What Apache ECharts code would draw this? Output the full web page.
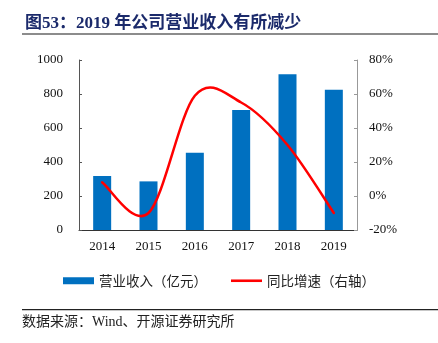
<!DOCTYPE html>
<html>
<head>
<meta charset="utf-8">
<script src="https://cdn.jsdelivr.net/npm/echarts@6/dist/echarts.min.js"></script>
<style>
  html, body { margin: 0; padding: 0; background: #fff; }
  #chart { width: 438px; height: 343px; }
</style>
</head>
<body>
<div id="chart"></div>
<script>
// Annual revenue (100M CNY) and its year-on-year growth (%)
const years = ['2014', '2015', '2016', '2017', '2018', '2019'];
const revenue = [318, 286, 455, 706, 916, 825];
const growth = [8, -10, 59, 55, 30, -10];
const leftTicks = [0, 200, 400, 600, 800, 1000];
const rightTicks = [-20, 0, 20, 40, 60, 80];

const serif = '"Liberation Serif", "Times New Roman", serif';
const cjk = '"Noto Sans CJK SC", sans-serif';

// Smooth growth curve: a cubic Bezier through every point, tangents
// taken from the neighbouring points (Catmull-Rom style).
function renderGrowthCurve(params, api) {
  if (params.dataIndex !== 0) return null;
  const pts = growth.map((v, i) => api.coord([i, v]));
  const n = pts.length;
  let d = 'M' + pts[0][0] + ',' + pts[0][1];
  for (let i = 0; i < n - 1; i++) {
    const p0 = pts[Math.max(i - 1, 0)];
    const p1 = pts[i];
    const p2 = pts[i + 1];
    const p3 = pts[Math.min(i + 2, n - 1)];
    const c1x = p1[0] + (p2[0] - p0[0]) / 6;
    const c1y = p1[1] + (p2[1] - p0[1]) / 6;
    const c2x = p2[0] - (p3[0] - p1[0]) / 6;
    const c2y = p2[1] - (p3[1] - p1[1]) / 6;
    d += ' C' + c1x + ',' + c1y + ' ' + c2x + ',' + c2y + ' ' + p2[0] + ',' + p2[1];
  }
  return {
    type: 'path',
    shape: { pathData: d },
    style: { stroke: '#ff0000', fill: null, lineWidth: 2.5, lineCap: 'round', lineJoin: 'round' },
    z2: 10
  };
}

const chart = echarts.init(document.getElementById('chart'));
chart.setOption({
  animation: false,
  title: {
    text: '图53：2019 年公司营业收入有所减少',
    left: 20, top: 10,
    textStyle: { fontFamily: serif + ',' + cjk, fontSize: 17, fontWeight: 'bold', color: '#1b2a6b' }
  },
  graphic: [
    { type: 'rect', shape: { x: 22, y: 33, width: 416, height: 2 }, style: { fill: '#8c8c8c' } },
    { type: 'rect', shape: { x: 22, y: 309, width: 416, height: 1.2 }, style: { fill: '#222' } },
    { type: 'text', left: 22, top: 315,
      style: { text: '数据来源：Wind、开源证券研究所', font: '14px ' + serif + ',' + cjk, fill: '#222' } }
  ],
  legend: {
    top: 269, left: 58,
    itemGap: 24,
    itemWidth: 31, itemHeight: 7,
    textStyle: { fontFamily: cjk, fontSize: 13.5, color: '#222' },
    data: [
      { name: '营业收入（亿元）', icon: 'rect', itemStyle: { color: '#0070c0' } },
      { name: '同比增速（右轴）', icon: 'path://M0,0 L30,0 L30,2.5 L0,2.5 Z', itemStyle: { color: '#ff0000' } }
    ]
  },
  grid: { left: 79, right: 81, top: 60, bottom: 113 },
  xAxis: {
    type: 'category',
    data: years,
    axisLine: { lineStyle: { color: '#333', width: 1 } },
    axisTick: { inside: true, length: 4, lineStyle: { color: '#333' } },
    axisLabel: { fontFamily: serif, fontSize: 13, color: '#111', margin: 10 }
  },
  yAxis: [
    {
      type: 'value', min: leftTicks[0], max: leftTicks[leftTicks.length - 1], interval: 200,
      splitLine: { show: false },
      axisLine: { show: true, lineStyle: { color: '#555' } },
      axisTick: { show: true, inside: true, length: 3, lineStyle: { color: '#555' } },
      axisLabel: { fontFamily: serif, fontSize: 13, color: '#111', margin: 16, formatter: v => String(v) }
    },
    {
      type: 'value', min: rightTicks[0], max: rightTicks[rightTicks.length - 1], interval: 20,
      splitLine: { show: false },
      axisLine: { show: true, lineStyle: { color: '#999' } },
      axisTick: { show: true, inside: true, length: 3, lineStyle: { color: '#999' } },
      axisLabel: { fontFamily: serif, fontSize: 13, color: '#111', margin: 12, formatter: v => v + '%' }
    }
  ],
  series: [
    {
      name: '营业收入（亿元）', type: 'bar', data: revenue,
      barWidth: 18, itemStyle: { color: '#0070c0' }
    },
    {
      name: '同比增速（右轴）', type: 'custom', yAxisIndex: 1,
      data: growth.map((v, i) => [i, v]),
      encode: { x: 0, y: 1 },
      renderItem: renderGrowthCurve,
      itemStyle: { color: '#ff0000' },
      z: 3
    }
  ]
});
</script>
</body>
</html>
